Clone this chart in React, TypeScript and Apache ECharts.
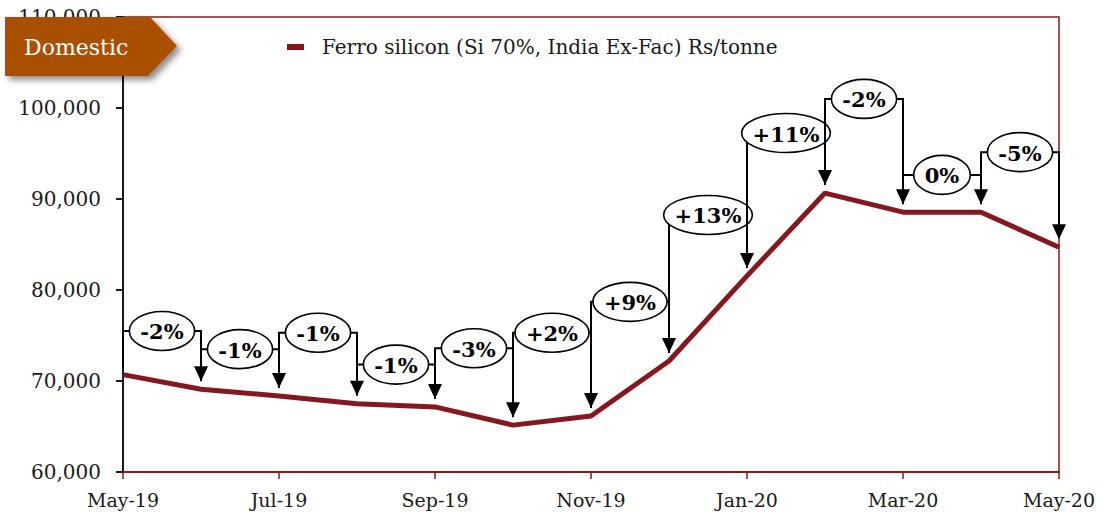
import React, { useEffect, useRef } from "react";
import * as echarts from "echarts";

const months = ["May-19", "Jun-19", "Jul-19", "Aug-19", "Sep-19", "Oct-19", "Nov-19", "Dec-19", "Jan-20", "Feb-20", "Mar-20", "Apr-20", "May-20"];
const prices = [70700, 69100, 68350, 67500, 67150, 65150, 66150, 72200, 81550, 90650, 88550, 88550, 84700];
const changeLabels = ["-2%", "-1%", "-1%", "-1%", "-3%", "+2%", "+9%", "+13%", "+11%", "-2%", "0%", "-5%"];
const bracketLevels = [75500, 73500, 75300, 71800, 73600, 75300, 78700, 88250, 97250, 101000, 92650, 95150];
const yTicks = { min: 60000, max: 110000, interval: 10000 };
const seriesName = "Ferro silicon (Si 70%, India Ex-Fac) Rs/tonne";
const badgeText = "Domestic";

const FONT = "DejaVu Serif";
const RED = "#85171f";
const FRAME = "#8b1a1a";

function measure(text: string, font: string): number {
  const c = document.createElement("canvas").getContext("2d");
  if (!c) return text.length * 12;
  c.font = font;
  return c.measureText(text).width;
}

export default function App() {
  const ref = useRef<HTMLDivElement>(null);
  useEffect(() => {
    if (!ref.current) return;
    const chart = echarts.init(ref.current, undefined, { renderer: "svg" });
    const labelFont = `bold 21px "${FONT}"`;
    const annData = changeLabels.map((l, i) => [i, bracketLevels[i], prices[i], i + 1, prices[i + 1]]);
    chart.setOption({
      animation: false,
      textStyle: { fontFamily: FONT },
      grid: { left: 123, right: 44, top: 17, bottom: 42, show: true, borderColor: FRAME, borderWidth: 1.5 },
      xAxis: {
        type: "category",
        data: months,
        boundaryGap: false,
        axisLine: { lineStyle: { color: FRAME, width: 2 } },
        axisTick: { interval: 1, length: 7, lineStyle: { color: FRAME, width: 1.5 } },
        axisLabel: { interval: 1, margin: 18, fontFamily: FONT, fontSize: 19, color: "#1a1a1a" },
        splitLine: { show: false },
      },
      yAxis: {
        type: "value",
        min: yTicks.min,
        max: yTicks.max,
        interval: yTicks.interval,
        axisLine: { show: true, lineStyle: { color: "#1a1a1a", width: 2 } },
        axisTick: { show: true, length: 7, lineStyle: { color: "#1a1a1a", width: 2 } },
        axisLabel: {
          margin: 22,
          fontFamily: FONT,
          fontSize: 20,
          color: "#1a1a1a",
          formatter: (v: number) => v.toLocaleString("en-US"),
        },
        splitLine: { show: false },
      },
      series: [
        {
          name: seriesName,
          type: "line",
          data: prices,
          symbol: "none",
          lineStyle: { color: RED, width: 5 },
          itemStyle: { color: RED },
          z: 2,
        },
        {
          type: "custom",
          data: annData,
          z: 5,
          silent: true,
          encode: { x: [0, 3], y: [1, 2, 4] },
          renderItem: (params: any, api: any) => {
            const idx = params.dataIndex;
            const p0 = api.coord([api.value(0), api.value(2)]);
            const p1 = api.coord([api.value(3), api.value(4)]);
            const lv = api.coord([api.value(0), api.value(1)])[1];
            const tip0 = p0[1] - 8;
            const tip1 = p1[1] - 8;
            const label = changeLabels[idx];
            const tw = measure(label, labelFont);
            const cx = (p0[0] + p1[0]) / 2;
            return {
              type: "group",
              children: [
                {
                  type: "polyline",
                  shape: { points: [[p0[0], tip0], [p0[0], lv], [p1[0], lv], [p1[0], tip1 - 12]] },
                  style: { stroke: "#000", lineWidth: 2, fill: "none" },
                },
                {
                  type: "polygon",
                  shape: { points: [[p1[0] - 7, tip1 - 15], [p1[0] + 7, tip1 - 15], [p1[0], tip1]] },
                  style: { fill: "#000" },
                },
                {
                  type: "ellipse",
                  shape: { cx, cy: lv, rx: tw / 2 + 11, ry: 19.5 },
                  style: { fill: "#fff", stroke: "#000", lineWidth: 1.6 },
                },
                {
                  type: "text",
                  style: {
                    text: label,
                    x: cx,
                    y: lv + 1,
                    align: "center",
                    verticalAlign: "middle",
                    font: labelFont,
                    fill: "#000",
                  },
                },
              ],
            };
          },
        },
      ],
      graphic: [
        {
          type: "rect",
          z: 50,
          shape: { x: 287, y: 44, width: 17, height: 6 },
          style: { fill: RED },
        },
        {
          type: "text",
          z: 50,
          x: 322,
          y: 47,
          style: {
            text: seriesName,
            font: `20px "${FONT}"`,
            fill: "#1a1a1a",
            verticalAlign: "middle",
          },
        },
        {
          type: "polygon",
          z: 100,
          shape: { points: [[5, 17], [150, 17], [177, 46], [148, 76], [5, 76]] },
          style: {
            fill: "#a85000",
            shadowBlur: 6,
            shadowOffsetX: 4,
            shadowOffsetY: 4,
            shadowColor: "rgba(0,0,0,0.45)",
          },
        },
        {
          type: "text",
          z: 101,
          x: 24,
          y: 47,
          style: {
            text: badgeText,
            font: `22px "${FONT}"`,
            fill: "#fff",
            verticalAlign: "middle",
          },
        },
      ],
    });
    return () => chart.dispose();
  }, []);
  return <div ref={ref} style={{ position: "absolute", left: 0, top: 0, width: 1103, height: 514 }} />;
}
